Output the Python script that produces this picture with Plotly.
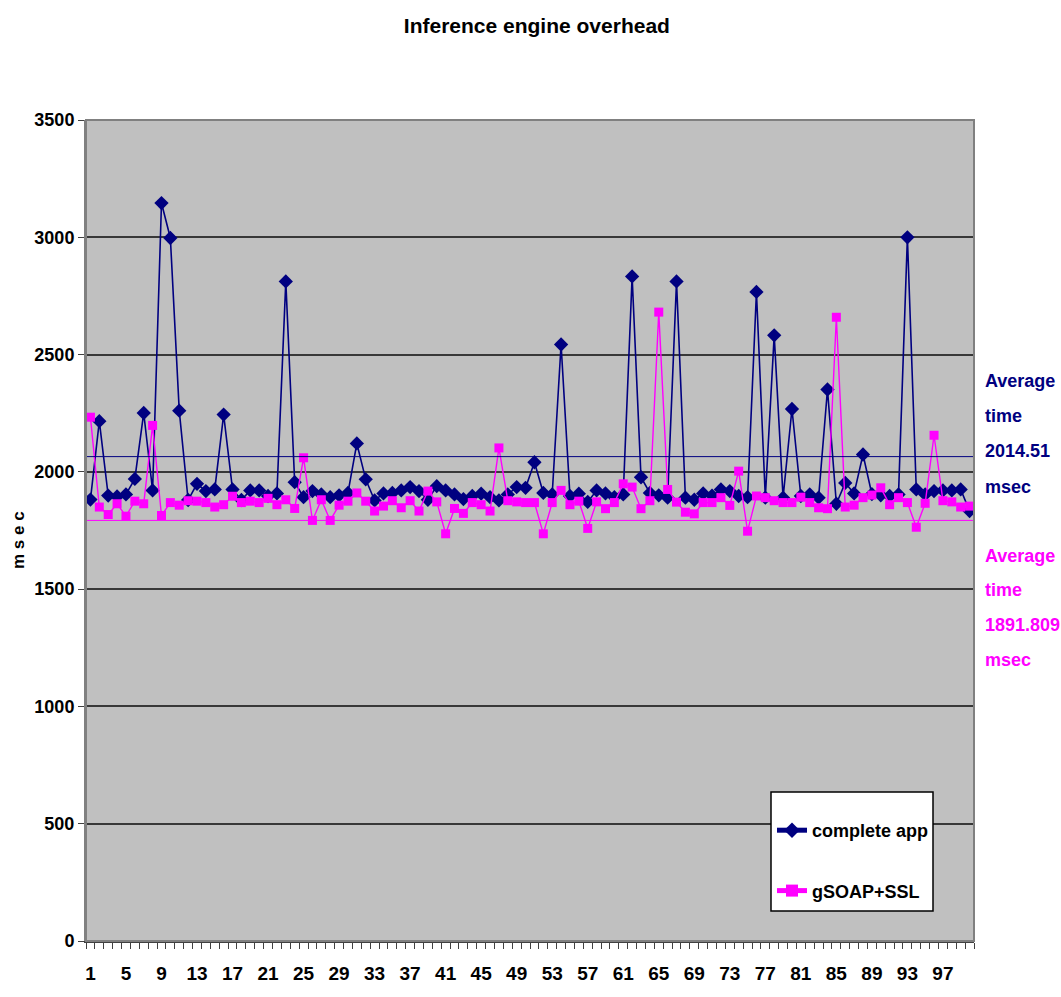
import plotly.graph_objects as go

# Run index (1..100)
runs = list(range(1, 101))

# Response time of the complete application (msec)
complete_app = [
    1882, 2216, 1899, 1895, 1904, 1970, 2251, 1921, 3146, 2997,
    2261, 1880, 1949, 1918, 1925, 2244, 1925, 1880, 1921, 1921,
    1897, 1908, 2812, 1956, 1892, 1918, 1904, 1892, 1900, 1910,
    2121, 1968, 1878, 1908, 1910, 1921, 1935, 1918, 1881, 1939,
    1921, 1904, 1884, 1897, 1907, 1892, 1878, 1904, 1935, 1932,
    2041, 1910, 1904, 2543, 1897, 1907, 1872, 1921, 1908, 1892,
    1904, 2833, 1977, 1910, 1900, 1890, 2812, 1890, 1881, 1908,
    1899, 1925, 1918, 1897, 1892, 2767, 1890, 2582, 1890, 2268,
    1897, 1904, 1890, 2351, 1864, 1953, 1908, 2074, 1905, 1900,
    1897, 1904, 3000, 1925, 1904, 1918, 1921, 1921, 1925, 1833,
]

# Response time of the gSOAP+SSL layer alone (msec)
gsoap_ssl = [
    2233, 1850, 1818, 1864, 1811, 1875, 1864, 2198, 1814, 1869,
    1858, 1877, 1875, 1869, 1850, 1860, 1896, 1869, 1875, 1869,
    1887, 1860, 1881, 1844, 2060, 1793, 1881, 1793, 1858, 1875,
    1910, 1875, 1833, 1854, 1877, 1847, 1877, 1833, 1918, 1872,
    1736, 1844, 1823, 1869, 1860, 1833, 2102, 1877, 1872, 1869,
    1869, 1736, 1869, 1921, 1860, 1875, 1759, 1872, 1843, 1869,
    1949, 1935, 1843, 1877, 2681, 1925, 1871, 1828, 1821, 1869,
    1869, 1890, 1857, 2003, 1747, 1897, 1890, 1877, 1869, 1869,
    1892, 1869, 1847, 1843, 2659, 1850, 1858, 1890, 1901, 1932,
    1860, 1890, 1869, 1764, 1866, 2156, 1877, 1872, 1850, 1854,
]

# Reference levels drawn across the plot
complete_ref_level = 2065
gsoap_ref_level = 1793

# Text beside the plot, one entry per line
complete_avg_lines = ["Average", "time", "2014.51", "msec"]
gsoap_avg_lines = ["Average", "time", "1891.809", "msec"]

x_tick_vals = list(range(1, 101, 4))
y_tick_vals = list(range(0, 3501, 500))

NAVY = "#000080"
MAGENTA = "#FF00FF"
FONT = "'Liberation Sans', Arial, sans-serif"

# Plot area in pixels (used to place side texts and the legend frame)
W, H = 1061, 997
PL, PR, PT, PB = 86, 974, 120, 941


def px_x(x):
    return (x - PL) / (PR - PL)


def px_y(y):
    return (PB - y) / (PB - PT)


fig = go.Figure()

fig.add_trace(go.Scatter(
    x=runs, y=complete_app, name="complete app", legendgroup="a",
    mode="lines+markers",
    line=dict(color=NAVY, width=1.6),
    marker=dict(symbol="diamond", size=11, color=NAVY),
))
fig.add_trace(go.Scatter(
    x=runs, y=gsoap_ssl, name="gSOAP+SSL", legendgroup="b",
    mode="lines+markers",
    line=dict(color=MAGENTA, width=1.4),
    marker=dict(symbol="square", size=9, color=MAGENTA),
))

# Horizontal reference lines
for level, color in ((complete_ref_level, NAVY), (gsoap_ref_level, MAGENTA)):
    fig.add_shape(type="line", xref="paper", yref="y",
                  x0=0, x1=1, y0=level, y1=level,
                  line=dict(color=color, width=1), layer="above")

# Plot frame
fig.add_shape(type="rect", xref="paper", yref="paper", x0=0, x1=1, y0=0, y1=1,
              line=dict(color="#808080", width=2), layer="above")

# Legend frame
fig.add_shape(type="rect", xref="paper", yref="paper",
              x0=px_x(771), x1=px_x(933), y0=px_y(911), y1=px_y(792),
              line=dict(color="black", width=1.5), fillcolor="white", layer="above")

# Side texts
for lines, centers, color in (
    (complete_avg_lines, [381, 416, 451, 487], NAVY),
    (gsoap_avg_lines, [556, 590, 625, 660], MAGENTA),
):
    for txt, yc in zip(lines, centers):
        fig.add_annotation(xref="paper", yref="paper", x=px_x(983), y=px_y(yc),
                           xanchor="left", yanchor="middle", align="left",
                           text=f"<b>{txt}</b>", showarrow=False,
                           font=dict(family=FONT, size=18, color=color))

# Vertical axis title
fig.add_annotation(xref="paper", yref="paper", x=px_x(18), y=px_y(540),
                   xanchor="center", yanchor="middle", textangle=-90,
                   text="<b>m s e c</b>", showarrow=False,
                   font=dict(family=FONT, size=17, color="black"))

fig.update_layout(
    width=W, height=H,
    margin=dict(l=PL, r=W - PR, t=PT, b=H - PB),
    paper_bgcolor="white",
    plot_bgcolor="#C0C0C0",
    font=dict(family=FONT, size=18, color="black"),
    title=dict(text="<b>Inference engine overhead</b>", x=0.506, xanchor="center",
               y=1 - 26 / H, yanchor="middle",
               font=dict(family=FONT, size=21, color="black")),
    showlegend=True,
    legend=dict(
        x=px_x(772), y=px_y(812), xanchor="left", yanchor="top",
        bgcolor="rgba(0,0,0,0)", borderwidth=0,
        font=dict(family=FONT, size=18, color="black", weight="bold"),
        tracegroupgap=34, itemsizing="constant",
        itemwidth=30,
    ),
)

fig.update_xaxes(
    range=[0.5, 100.5], automargin=False,
    tickmode="array", tickvals=x_tick_vals, ticktext=[f"<b>{v}</b>" for v in x_tick_vals],
    ticks="", showgrid=False, zeroline=False,
    showline=True, linecolor="#404040", linewidth=1.5,
    minor=dict(ticks="outside", tick0=0.5, dtick=1, ticklen=6,
               tickcolor="#404040", showgrid=False),
    ticklabelstandoff=14,
    tickfont=dict(family=FONT, size=19, color="black"),
)
fig.update_yaxes(
    range=[0, 3500], automargin=False,
    tickmode="array", tickvals=y_tick_vals, ticktext=[f"<b>{v}</b>" for v in y_tick_vals],
    ticks="outside", ticklen=6, tickcolor="#404040",
    showgrid=True, gridcolor="#383838", gridwidth=1.5,
    zeroline=False, showline=True, linecolor="#808080", linewidth=2,
    tickfont=dict(family=FONT, size=18, color="black"),
)

fig.write_html("out.html")
